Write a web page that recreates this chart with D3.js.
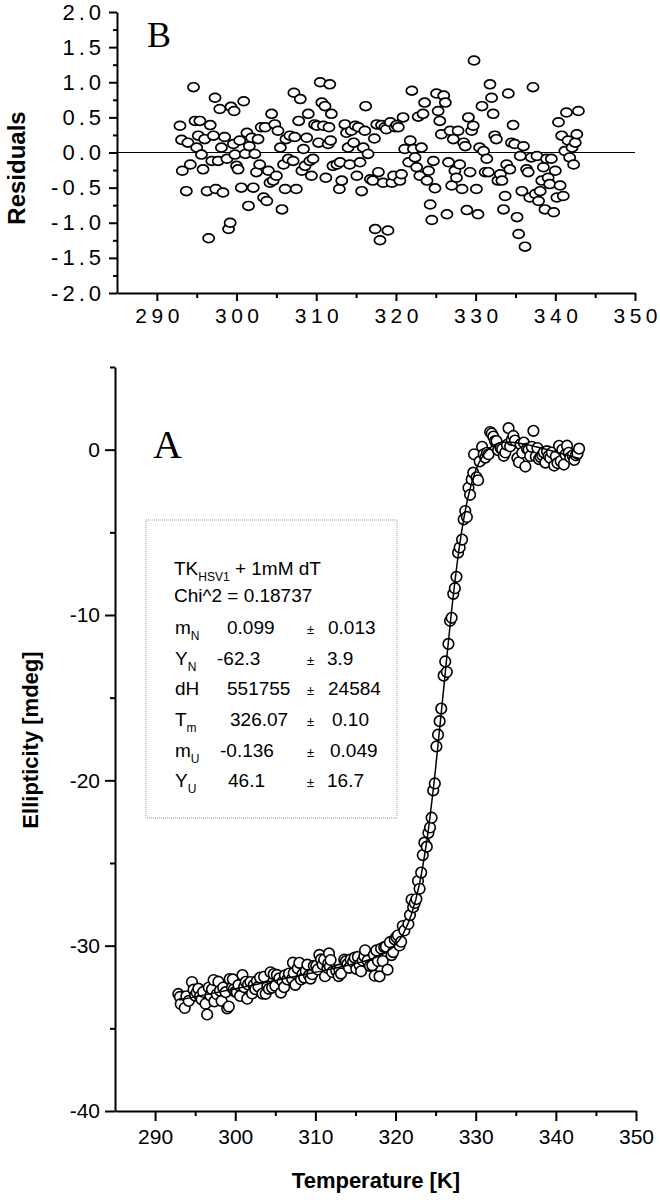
<!DOCTYPE html>
<html lang="en">
<head>
    <title>TK HSV1 thermal unfolding</title>
    <meta charset="utf-8">
    <script src="https://d3js.org/d3.v7.min.js"></script>
    <style>
        body { margin: 0; background: #fff; }
        svg text { font-family: "Liberation Sans", Arial, sans-serif; fill: #000; }
    </style>
</head>
<body>
<div id="chart"></div>
<script>

    // Measured points (temperature in K), residuals of the fit and ellipticity in mdeg
    const temps = [
        292.9,293.1,293.2,293.7,293.9,294.2,294.6,294.8,295.0,295.2,
        295.4,295.6,295.8,296.0,296.3,296.5,296.7,296.9,297.1,297.3,
        297.4,297.7,297.9,298.1,298.3,298.5,298.8,299.0,299.2,299.3,
        299.6,299.7,299.8,300.0,300.2,300.4,300.6,300.9,301.1,301.3,
        301.5,301.6,301.9,302.1,302.3,302.5,302.7,302.9,303.1,303.4,
        303.6,303.8,304.0,304.2,304.4,304.6,304.8,305.0,305.2,305.5,
        305.7,305.9,306.1,306.2,306.5,306.7,307.1,307.2,307.3,307.5,
        307.8,308.0,308.2,308.4,308.6,308.8,309.0,309.2,309.4,309.6,
        309.8,310.1,310.3,310.5,310.7,310.9,311.1,311.2,311.5,311.6,
        311.7,311.8,311.9,312.1,312.6,312.9,313.0,313.2,313.6,313.8,
        314.0,314.2,314.4,314.7,314.9,315.1,315.3,315.5,315.7,315.9,
        316.1,316.2,316.5,316.8,317.1,317.3,317.4,317.6,317.8,318.0,
        318.2,318.4,318.6,318.8,319.0,319.3,319.5,319.7,319.9,320.1,
        320.3,320.5,320.7,320.9,321.1,321.6,321.8,322.0,322.2,322.4,
        322.6,322.8,323.0,323.2,323.4,323.6,323.9,324.1,324.3,324.5,
        324.7,324.9,325.1,325.3,325.5,325.7,326.0,326.2,326.4,326.6,
        326.8,327.0,327.2,327.4,327.6,327.8,328.0,328.3,328.5,328.7,
        328.9,329.1,329.3,329.5,329.7,329.8,330.1,330.3,330.5,330.8,
        331.0,331.2,331.4,331.6,331.8,332.0,332.2,332.4,332.6,332.8,
        333.1,333.3,333.5,333.7,333.9,334.1,334.3,334.5,334.7,334.9,
        335.2,335.4,335.6,335.8,336.0,336.2,336.4,336.6,336.8,337.0,
        337.2,337.5,337.7,337.9,338.1,338.3,338.5,338.7,338.9,339.1,
        339.3,339.5,339.8,340.0,340.2,340.4,340.6,340.8,341.0,341.2,
        341.4,341.6,341.8,342.1,342.3,342.5,342.7,342.9
    ];

    const residuals = [
        0.38,0.18,-0.26,-0.55,0.14,-0.17,0.93,0.45,0.07,0.24,
        0.45,-0.03,-0.24,0.19,-0.55,-1.22,0.39,-0.12,0.24,0.78,
        -0.52,-0.12,0.62,0.07,-0.57,0.22,-0.09,-1.09,-1.00,0.65,
        0.12,0.59,-0.03,-0.19,-0.24,0.17,-0.50,0.73,-0.02,0.28,
        -0.76,0.09,0.21,-0.50,-0.02,-0.28,0.19,-0.17,0.36,-0.64,
        0.36,-0.69,-0.26,-0.43,0.55,-0.40,0.40,-0.33,0.31,0.07,
        -0.81,-0.17,-0.52,0.19,-0.09,0.24,-0.12,0.85,0.22,-0.52,
        0.45,0.76,-0.26,0.05,-0.19,0.21,0.55,-0.12,-0.33,-0.09,
        0.40,0.38,0.14,1.00,0.71,0.38,0.66,-0.36,0.12,0.36,
        0.97,0.17,0.55,-0.19,-0.17,-0.52,-0.14,-0.40,0.40,0.28,
        0.07,-0.17,0.31,0.14,0.38,-0.33,0.36,-0.14,-0.55,0.07,
        0.31,0.66,-0.02,-0.38,-0.40,0.20,-1.09,0.40,-0.28,-1.25,
        0.39,-0.43,0.36,0.33,-1.11,0.43,-0.43,-0.33,0.36,0.39,
        0.36,-0.40,-0.31,0.50,0.05,-0.14,0.17,0.88,0.05,-0.07,
        -0.21,0.51,-0.33,0.07,0.55,0.71,-0.40,-0.26,-0.74,-0.96,
        -0.12,-0.51,0.84,0.59,0.45,0.26,0.81,0.71,-0.88,-0.14,
        0.31,-0.47,0.19,-0.26,-0.36,0.31,-0.17,-0.52,0.14,0.09,
        -0.82,0.50,-0.28,0.31,0.38,1.31,-0.52,-0.88,0.07,0.66,
        0.02,-0.28,-0.09,-0.28,0.97,0.78,0.55,0.24,0.19,-0.40,
        -0.31,-0.40,-0.81,-0.62,-0.17,0.84,-0.24,0.14,0.39,0.12,
        -0.92,-1.16,-0.05,-0.55,0.09,-1.34,-0.24,-0.28,-0.64,-0.07,
        0.93,-0.59,-0.05,-0.69,-0.55,-0.40,-0.21,-0.81,-0.09,-0.36,
        -0.45,-0.09,-0.85,-0.26,-0.64,0.43,-0.47,0.24,-0.62,0.02,
        0.57,0.17,-0.07,0.07,-0.17,0.14,0.26,0.59
    ];

    const ellipticity = [
        -32.92,-33.10,-33.53,-33.77,-33.06,-33.34,-32.20,-32.66,-33.02,-32.83,
        -32.60,-33.06,-33.25,-32.80,-33.51,-34.16,-32.53,-33.02,-32.64,-32.08,
        -33.37,-32.94,-32.18,-32.72,-33.34,-32.53,-32.81,-33.79,-33.68,-32.02,
        -32.52,-32.04,-32.65,-32.79,-32.82,-32.39,-33.04,-31.78,-32.51,-32.19,
        -33.21,-32.35,-32.20,-32.89,-32.39,-32.63,-32.14,-32.48,-31.93,-32.90,
        -31.88,-32.91,-32.46,-32.61,-31.61,-32.54,-31.72,-32.43,-31.77,-31.98,
        -32.84,-32.18,-32.51,-31.79,-32.04,-31.69,-32.01,-31.03,-31.65,-32.37,
        -31.37,-31.04,-32.04,-31.71,-31.93,-31.51,-31.15,-31.80,-31.99,-31.73,
        -31.22,-31.22,-31.44,-30.56,-30.83,-31.14,-30.84,-31.85,-31.34,-31.09,
        -30.47,-31.26,-30.87,-31.59,-31.52,-31.84,-31.45,-31.69,-30.85,-30.95,
        -31.12,-31.34,-30.84,-30.98,-30.72,-31.40,-30.68,-31.16,-31.55,-30.90,
        -30.64,-30.28,-30.91,-31.22,-31.19,-30.55,-31.82,-30.29,-30.93,-31.86,
        -30.17,-30.93,-30.09,-30.06,-31.45,-29.79,-30.57,-30.39,-29.62,-29.48,
        -29.37,-29.99,-29.76,-28.81,-29.08,-28.69,-28.15,-27.21,-27.67,-27.42,
        -27.18,-26.09,-26.56,-25.58,-24.52,-23.77,-24.01,-23.18,-22.85,-22.26,
        -20.61,-20.19,-17.95,-17.24,-16.42,-15.66,-13.67,-12.81,-13.45,-11.75,
        -10.35,-10.17,-8.72,-8.38,-7.69,-6.23,-5.92,-5.44,-4.22,-3.71,
        -4.07,-2.30,-2.73,-1.80,-1.39,-0.28,-1.67,-1.85,-0.71,0.17,
        -0.28,-0.48,-0.19,-0.28,1.07,0.98,0.79,0.52,0.52,-0.03,
        0.11,0.03,-0.37,-0.17,0.29,1.30,0.21,0.59,0.83,0.55,
        -0.51,-0.76,0.33,-0.19,0.43,-1.02,0.06,0.00,-0.38,0.17,
        1.14,-0.41,0.10,-0.57,-0.45,-0.33,-0.16,-0.78,-0.09,-0.38,
        -0.50,-0.17,-0.96,-0.40,-0.81,0.23,-0.69,-0.01,-0.90,-0.29,
        0.24,-0.19,-0.46,-0.35,-0.62,-0.34,-0.25,0.06
    ];

    // Fitted curve
    const fitTemps = [293, 300, 310, 315, 317, 318, 319, 320, 321, 322, 323, 324, 325,
        326, 327, 328, 329, 330, 331, 332, 333, 334, 336, 338, 340, 343];
    const fitValues = [-33.29, -32.60, -31.61, -31.08, -30.81, -30.61, -30.34, -29.94, -29.24,
        -28.09, -26.23, -23.32, -19.27, -14.48, -9.70, -5.75, -2.97, -1.25, -0.30, 0.20,
        0.41, 0.46, 0.34, 0.11, -0.14, -0.55];

    // Tick values
    const tempTicks = [290, 300, 310, 320, 330, 340, 350];
    const tempMinorTicks = [295, 305, 315, 325, 335, 345];
    const residTicks = [-2, -1.5, -1, -0.5, 0, 0.5, 1, 1.5, 2];
    const residMinorTicks = [-1.75, -1.25, -0.75, -0.25, 0.25, 0.75, 1.25, 1.75];
    const ellipTicks = [0, -10, -20, -30, -40];
    const ellipMinorTicks = [5, -5, -15, -25, -35];

    // Fit parameters box
    const legendTitle = ["TK", "HSV1", " + 1mM dT"];
    const legendChi = "Chi^2 = 0.18737";
    const paramNames = [["m", "N"], ["Y", "N"], ["dH", ""], ["T", "m"], ["m", "U"], ["Y", "U"]];
    const paramValues = ["0.099", "-62.3", "551755", "326.07", "-0.136", "46.1"];
    const paramErrors = ["0.013", "3.9", "24584", "0.10", "0.049", "16.7"];

    const points = temps.map((t, i) => ({t: t, r: residuals[i], e: ellipticity[i]}));
    const fitPoints = fitTemps.map((t, i) => ({t: t, v: fitValues[i]}));

    const svg = d3.select("#chart")
        .append("svg")
        .attr("width", 660)
        .attr("height", 1200);

    // spread the glyphs of a tick label apart without trailing space
    const spreadText = (sel, gap) => {
        sel.each(function () {
            const n = this.textContent.length;
            const w = this.getComputedTextLength();
            d3.select(this)
                .attr("textLength", w + gap * (n - 1))
                .attr("lengthAdjust", "spacing");
        });
    };

    // ---------- Panel B: residuals ----------
    const xB = d3.scaleLinear().domain([285, 350]).range([117, 635]);
    const yB = d3.scaleLinear().domain([-2, 2]).range([293, 12]);

    const gB = svg.append("g");

    gB.append("line")
        .attr("x1", xB(285)).attr("x2", xB(350))
        .attr("y1", yB(0)).attr("y2", yB(0))
        .attr("stroke", "#000")
        .attr("stroke-width", 1);

    gB.append("g")
        .selectAll("ellipse")
        .data(points)
        .join("ellipse")
        .attr("cx", d => xB(d.t))
        .attr("cy", d => yB(d.r))
        .attr("rx", 5.6)
        .attr("ry", 4.4)
        .attr("fill", "#fff")
        .attr("stroke", "#000")
        .attr("stroke-width", 1.7);

    // minor ticks first so the major axis lies on top
    gB.append("g")
        .attr("transform", `translate(${xB(285)},0)`)
        .call(d3.axisLeft(yB).tickValues(residMinorTicks).tickSize(4).tickFormat(""))
        .call(g => g.select(".domain").remove());

    gB.append("g")
        .attr("transform", `translate(0,${yB(-2)})`)
        .call(d3.axisBottom(xB).tickValues(tempMinorTicks).tickSize(5).tickFormat(""))
        .call(g => g.select(".domain").remove());

    const yAxisB = gB.append("g")
        .attr("transform", `translate(${xB(285)},0)`)
        .call(d3.axisLeft(yB).tickValues(residTicks).tickSize(8).tickSizeOuter(0)
            .tickPadding(8).tickFormat(d => d.toFixed(1)));
    yAxisB.selectAll("text").style("font-size", "22px").call(spreadText, 4);

    const xAxisB = gB.append("g")
        .attr("transform", `translate(0,${yB(-2)})`)
        .call(d3.axisBottom(xB).tickValues(tempTicks).tickSize(8).tickSizeOuter(0).tickPadding(7));
    xAxisB.selectAll("text").style("font-size", "21px").call(spreadText, 4.5);

    gB.selectAll(".domain, .tick line").attr("stroke-width", 2);

    gB.append("text")
        .attr("transform", `translate(25,168) rotate(-90)`)
        .attr("text-anchor", "middle")
        .style("font-size", "24px")
        .style("font-weight", "bold")
        .text("Residuals");

    gB.append("text")
        .attr("x", 147)
        .attr("y", 47)
        .style("font-family", "'Liberation Serif', 'Times New Roman', serif")
        .style("font-size", "36px")
        .text("B");

    // ---------- Panel A: ellipticity ----------
    const xA = d3.scaleLinear().domain([285, 350]).range([115, 636]);
    const yA = d3.scaleLinear().domain([-40, 5]).range([1111, 367]);

    const gA = svg.append("g");

    gA.append("g")
        .selectAll("circle")
        .data(points)
        .join("circle")
        .attr("cx", d => xA(d.t))
        .attr("cy", d => yA(d.e))
        .attr("r", 5.3)
        .attr("fill", "#fff")
        .attr("stroke", "#000")
        .attr("stroke-width", 1.6);

    gA.append("path")
        .datum(fitPoints)
        .attr("d", d3.line()
            .x(d => xA(d.t))
            .y(d => yA(d.v))
            .curve(d3.curveMonotoneX))
        .attr("fill", "none")
        .attr("stroke", "#000")
        .attr("stroke-width", 1.5);

    gA.append("g")
        .attr("transform", `translate(${xA(285)},0)`)
        .call(d3.axisLeft(yA).tickValues(ellipMinorTicks).tickSize(5).tickFormat(""))
        .call(g => g.select(".domain").remove());

    gA.append("g")
        .attr("transform", `translate(0,${yA(-40)})`)
        .call(d3.axisBottom(xA).tickValues(tempMinorTicks).tickSize(5).tickFormat(""))
        .call(g => g.select(".domain").remove());

    const yAxisA = gA.append("g")
        .attr("transform", `translate(${xA(285)},0)`)
        .call(d3.axisLeft(yA).tickValues(ellipTicks).tickSize(10).tickSizeOuter(0)
            .tickPadding(5).tickFormat(d => String(d)));
    yAxisA.selectAll("text").style("font-size", "21px");

    const xAxisA = gA.append("g")
        .attr("transform", `translate(0,${yA(-40)})`)
        .call(d3.axisBottom(xA).tickValues(tempTicks).tickSize(10).tickSizeOuter(0).tickPadding(8));
    xAxisA.selectAll("text").style("font-size", "21px");

    gA.selectAll(".domain, .tick line").attr("stroke-width", 2);

    gA.append("text")
        .attr("transform", `translate(38,740) rotate(-90)`)
        .attr("text-anchor", "middle")
        .style("font-size", "22px")
        .style("font-weight", "bold")
        .text("Ellipticity [mdeg]");

    gA.append("text")
        .attr("x", 376)
        .attr("y", 1188)
        .attr("text-anchor", "middle")
        .style("font-size", "22px")
        .style("font-weight", "bold")
        .text("Temperature [K]");

    gA.append("text")
        .attr("x", 153)
        .attr("y", 458)
        .style("font-family", "'Liberation Serif', 'Times New Roman', serif")
        .style("font-size", "40px")
        .text("A");

    // parameter box
    gA.append("rect")
        .attr("x", 146).attr("y", 520)
        .attr("width", 251).attr("height", 298)
        .attr("fill", "none")
        .attr("stroke", "#999")
        .attr("stroke-width", 1)
        .attr("stroke-dasharray", "1,1");

    const title = gA.append("text")
        .attr("x", 174)
        .attr("y", 575)
        .style("font-size", "19px");
    title.append("tspan").text(legendTitle[0]);
    title.append("tspan").attr("dy", 6).style("font-size", "12px").text(legendTitle[1]);
    title.append("tspan").attr("dy", -6).text(legendTitle[2]);

    gA.append("text")
        .attr("x", 174)
        .attr("y", 602)
        .style("font-size", "19px")
        .text(legendChi);

    const rowY = [634, 665, 695, 726, 757, 787];
    const valueX = [227, 217, 227, 230, 220, 228];
    const errX = [328, 327, 328, 332, 330, 327];

    paramNames.forEach((name, i) => {
        const lbl = gA.append("text")
            .attr("x", 175)
            .attr("y", rowY[i])
            .style("font-size", "19px");
        lbl.append("tspan").text(name[0]);
        if (name[1]) {
            lbl.append("tspan").attr("dy", 6).style("font-size", "12px").text(name[1]);
        }

        gA.append("text")
            .attr("x", valueX[i])
            .attr("y", rowY[i])
            .style("font-size", "19px")
            .text(paramValues[i]);

        gA.append("text")
            .attr("x", 307)
            .attr("y", rowY[i])
            .style("font-size", "13px")
            .text("\u00B1");

        gA.append("text")
            .attr("x", errX[i])
            .attr("y", rowY[i])
            .style("font-size", "19px")
            .text(paramErrors[i]);
    });

</script>
</body>
</html>
